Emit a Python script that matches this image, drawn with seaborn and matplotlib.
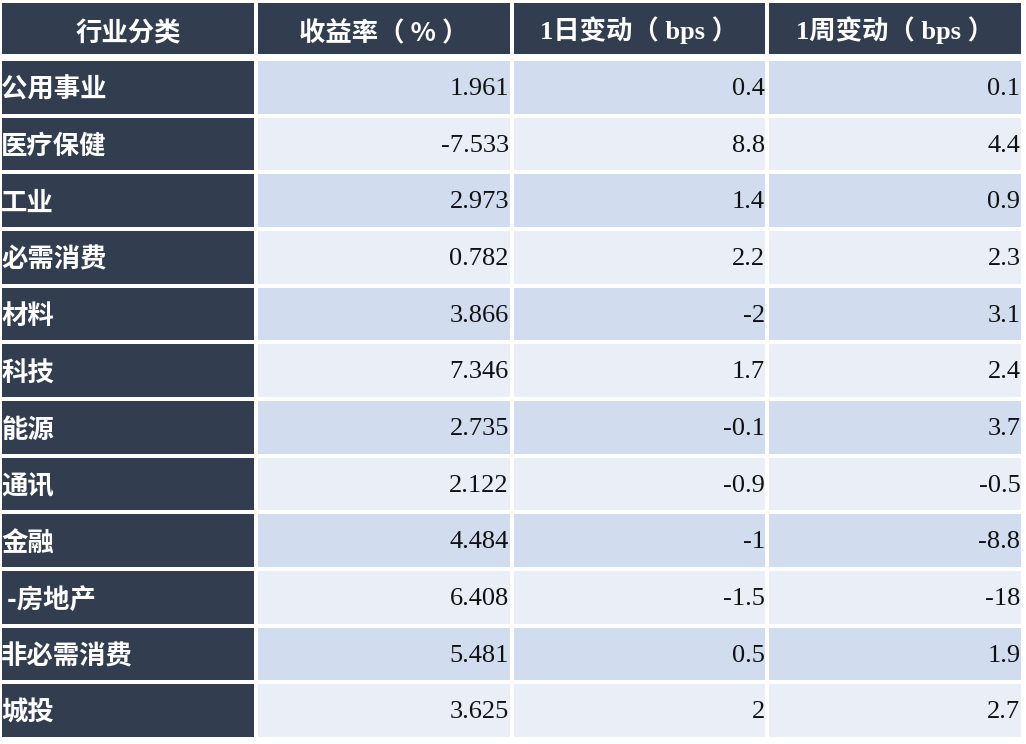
import numpy as np
import pandas as pd
import matplotlib
matplotlib.use('Agg')
from matplotlib import pyplot as plt
from matplotlib.colors import ListedColormap
import seaborn as sns

# Table data
columns = ['行业分类', '收益率（ % ）', '1日变动（ bps ）', '1周变动（ bps ）']
sectors = ['公用事业', '医疗保健', '工业', '必需消费', '材料', '科技', '能源',
           '通讯', '金融', ' -房地产', '非必需消费', '城投']
yield_pct = [1.961, -7.533, 2.973, 0.782, 3.866, 7.346, 2.735, 2.122, 4.484, 6.408, 5.481, 3.625]
chg_1d = [0.4, 8.8, 1.4, 2.2, -2, 1.7, -0.1, -0.9, -1, -1.5, 0.5, 2]
chg_1w = [0.1, 4.4, 0.9, 2.3, 3.1, 2.4, 3.7, -0.5, -8.8, -18, 1.9, 2.7]

dark = '#323d4f'
band1 = '#d1ddef'
band2 = '#e9eef7'
cmap = ListedColormap([dark, band1, band2])

df = pd.DataFrame({columns[1]: yield_pct, columns[2]: chg_1d, columns[3]: chg_1w}, index=sectors)

# band codes: first column dark, others alternate
n = len(sectors)
codes = np.zeros((n, 4))
for i in range(n):
    codes[i, 1:] = 1 if i % 2 == 0 else 2

cjk = ['Noto Sans CJK SC', 'DejaVu Sans']
mixed = ['Liberation Serif', 'Noto Sans CJK SC']

fig = plt.figure(figsize=(10.26, 7.44), dpi=100)
ax_h = fig.add_axes([0, 1 - 56 / 744, 1023 / 1026, 55 / 744])
ax_b = fig.add_axes([0, 5 / 744, 1023 / 1026, 680 / 744])

# Header
sns.heatmap(np.zeros((1, 4)), ax=ax_h, cmap=cmap, vmin=0, vmax=2, cbar=False,
            linewidths=1.5, linecolor='white', xticklabels=False, yticklabels=False)
for j, c in enumerate(columns):
    fam = cjk if j < 2 else mixed
    ypos = 0.6 if j < 2 else 0.53
    ax_h.text(j + 0.5, ypos, c, ha='center', va='center', color='white',
              fontsize=19, fontweight='heavy', family=fam)

# Body
sns.heatmap(codes, ax=ax_b, cmap=cmap, vmin=0, vmax=2, cbar=False,
            linewidths=1.5, linecolor='white', xticklabels=False, yticklabels=False)
for i, s in enumerate(sectors):
    ax_b.text(0.005, i + 0.55, s, ha='left', va='center', color='white',
              fontsize=19, fontweight='heavy', family=cjk)
    for j, col in enumerate(columns[1:], start=1):
        ax_b.text(j + 0.99, i + 0.53, f'{df[col].iloc[i]:g}', ha='right', va='center',
                  color='#111111', fontsize=19, family='Liberation Serif')

for a in (ax_h, ax_b):
    a.set_xlabel('')
    a.set_ylabel('')
    for sp in a.spines.values():
        sp.set_visible(False)

fig.savefig('out.png', dpi=100, facecolor='white')
